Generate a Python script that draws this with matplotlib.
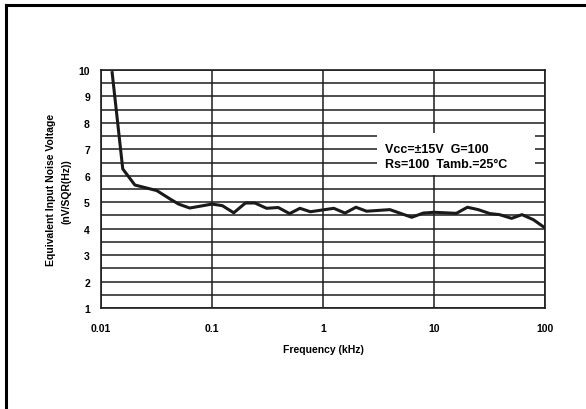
import matplotlib
matplotlib.use("Agg")
import matplotlib.pyplot as plt
from matplotlib.patches import Rectangle
from matplotlib.lines import Line2D

plt.rcParams['font.family'] = ['Liberation Sans', 'DejaVu Sans']
plt.rcParams['font.weight'] = 'bold'

# noise curve
freq_khz = [0.0126, 0.0157, 0.0202, 0.0318, 0.042, 0.050, 0.063, 0.1, 0.124,
            0.157, 0.2, 0.244, 0.31, 0.395, 0.5, 0.62, 0.77, 1.0, 1.25,
            1.58, 1.98, 2.47, 4.0, 6.3, 8.0, 10, 15.9, 20, 25, 31.9, 39,
            50, 62, 78.5, 100]
noise = [9.9, 6.26, 5.65, 5.44, 5.12, 4.93, 4.78, 4.93, 4.87,
         4.6, 4.97, 4.97, 4.77, 4.8, 4.57, 4.77, 4.64, 4.71, 4.77,
         4.59, 4.81, 4.66, 4.72, 4.43, 4.59, 4.62, 4.58, 4.81, 4.72, 4.57, 4.53,
         4.39, 4.53, 4.34, 4.03]

x_ticks = [0.01, 0.1, 1, 10, 100]
x_labels = ['0.01', '0.1', '1', '10', '100']
y_ticks = [1, 2, 3, 4, 5, 6, 7, 8, 9, 10]

fig = plt.figure(figsize=(5.86, 4.10), dpi=100)
ax = fig.add_axes([101/586, 1 - 309/410, 444/586, 238/410])

# horizontal grid every 0.5, vertical at decades
for v in [1 + 0.5*i for i in range(19)]:
    ax.axhline(v, color='#1e1e1e', lw=1.1, zorder=1)
for f in x_ticks:
    ax.axvline(f, color='#1e1e1e', lw=1.1, zorder=1)

ax.plot(freq_khz, noise, color='#1a1a1a', lw=2.2, zorder=3,
        solid_joinstyle='round')

ax.set_xscale('log')
ax.set_xlim(0.01, 100)
ax.set_ylim(1, 10)
ax.set_xticks(x_ticks)
ax.set_xticklabels(x_labels)
ax.minorticks_off()
ax.set_yticks(y_ticks)
ax.tick_params(axis='both', length=0, labelsize=7.5)
ax.tick_params(axis='x', pad=11)
ax.tick_params(axis='y', pad=8)
for s in ax.spines.values():
    s.set_linewidth(1.2)
    s.set_color('#1e1e1e')

ax.set_xlabel('Frequency (kHz)', fontsize=7.5, fontweight='bold', labelpad=8)

# white box behind the conditions text
box = Rectangle((377/586, 1 - 176/410), (535 - 377)/586, 42/410,
                transform=fig.transFigure, facecolor='white',
                edgecolor='none', zorder=5)
fig.patches.append(box)
fig.text(385/586, 1 - 153/410, 'Vcc=\u00b115V  G=100', fontsize=9,
         fontweight='bold', zorder=6)
fig.text(385/586, 1 - 168.5/410, 'Rs=100  Tamb.=25\u00b0C', fontsize=9,
         fontweight='bold', zorder=6)

# two-line y label
fig.text(51/586, 1 - 190/410, 'Equivalent Input Noise Voltage', rotation=90,
         ha='center', va='center', fontsize=7.5, fontweight='bold')
fig.text(66/586, 1 - 192/410, '(nV/SQR(Hz))', rotation=90,
         ha='center', va='center', fontsize=7.5, fontweight='bold')

# page frame, only top and left edges show
fig.add_artist(Line2D([6/586, 1], [1 - 6/410, 1 - 6/410],
                      transform=fig.transFigure, color='black', lw=2.2))
fig.add_artist(Line2D([6/586, 6/586], [0, 1 - 6/410],
                      transform=fig.transFigure, color='black', lw=2.2))

fig.savefig('out.png', dpi=100)
